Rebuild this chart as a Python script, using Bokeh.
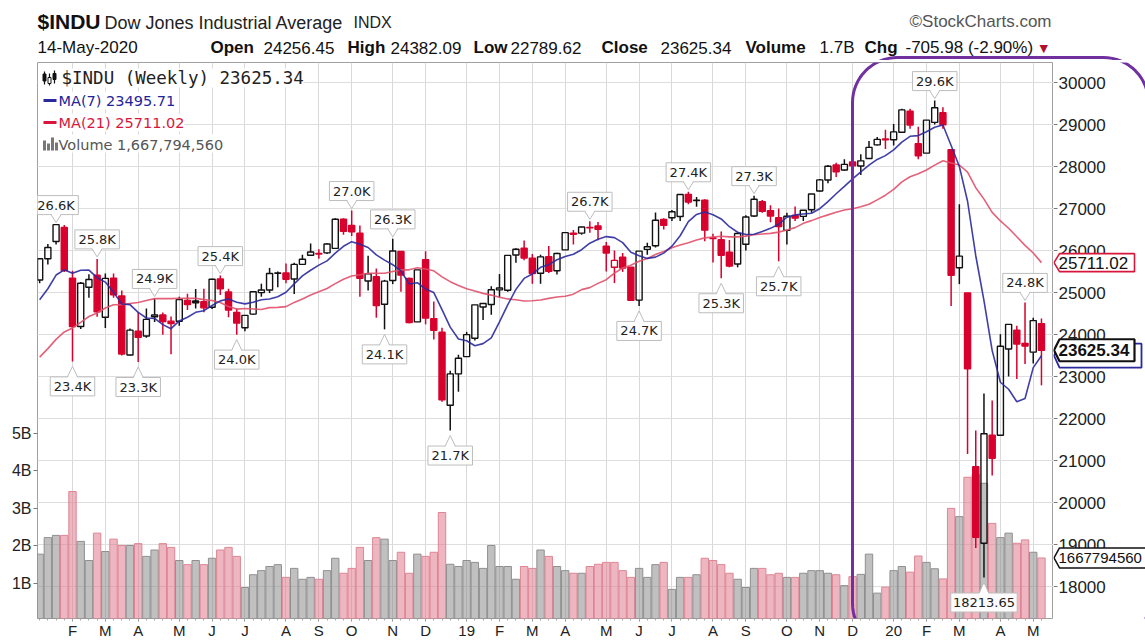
import numpy as np
import pandas as pd
from bokeh.plotting import figure
from bokeh.layouts import column, row
from bokeh.models import Range1d, LinearAxis, FixedTicker, Grid, ColumnDataSource
from bokeh.core.properties import value
from bokeh.embed import file_html
from bokeh.resources import INLINE

# ------------------------------------------------------------------ data
first_week = "2018-01-08"
opens = [25296, 25804, 26214, 26550, 25338, 24190, 25124, 25412, 24412, 25339,
         24915, 23513, 24076, 23963, 24421, 24465, 24318, 24317, 24808, 24800,
         24782, 24650, 25322, 25014, 24524, 24161, 24486, 24998, 25059, 25459,
         25465, 25321, 25670, 25887, 25931, 25944, 26050, 26743, 26598, 26410,
         25275, 25377, 24722, 25287, 25976, 25337, 24300, 25779, 24378, 24052,
         22317, 23062, 23474, 23910, 24654, 24715, 25063, 25052, 25892, 26052,
         25819, 25459, 25852, 25519, 26015, 26388, 26413, 26550, 26582, 26100,
         25600, 25841, 25600, 24819, 26027, 26112, 26740, 26780, 26810, 27337,
         27200, 27196, 26301, 26255, 25957, 25679, 26150, 26822, 27160, 26950,
         26780, 26478, 26836, 26812, 26970, 27417, 27678, 28034, 27917, 28109,
         28011, 28191, 28515, 28655, 28636, 28817, 29316, 28540, 28319, 29050,
         29279, 28402, 25591, 24990, 20850, 19029, 21600, 21600, 23656, 24100,
         23789, 23580, 24256.45]
highs = [25804, 26154, 26617, 26608, 25520, 25249, 25432, 25800, 25450, 25450,
         25049, 24140, 24530, 24622, 24858, 24521, 24429, 24900, 24968, 25086,
         25087, 25326, 25402, 25088, 24622, 24456, 25019, 25210, 25586, 25500,
         25692, 25710, 25897, 26167, 26030, 26173, 26769, 26769, 26951, 26597,
         25877, 25570, 25301, 26277, 25977, 25355, 25538, 25980, 24788, 24159,
         23138, 23518, 24064, 24706, 24752, 25149, 25439, 25883, 26052, 26241,
         25917, 25899, 26109, 25949, 26425, 26486, 26565, 26696, 26680, 26200,
         26000, 25940, 25600, 25984, 26182, 26907, 26770, 26966, 27332, 27398,
         27273, 27221, 26400, 26450, 26250, 26427, 26840, 27306, 27200, 27079,
         26998, 26900, 27050, 26960, 27347, 27700, 28034, 28090, 28175, 28120,
         28290, 28608, 28701, 28873, 29009, 29374, 29373, 28944, 29103, 29569,
         29410, 28402, 27102, 24990, 21714, 22595, 22430, 24008, 24242, 24208,
         24764, 24400, 24382.09]
lows = [25222, 25667, 26144, 25490, 23360, 24130, 24876, 24420, 24156, 24874,
        23500, 23500, 23345, 23922, 24300, 23997, 23531, 24209, 24585, 24622,
        24528, 24609, 24943, 24408, 23997, 24075, 24470, 24900, 24987, 25126,
        25222, 24965, 25667, 25887, 25801, 25915, 26050, 26375, 26345, 24899,
        25049, 24400, 24122, 25200, 25017, 24268, 24295, 24242, 23881, 22397,
        21713, 22638, 23474, 23860, 24345, 24470, 24883, 25017, 25710, 25765,
        25208, 25208, 25462, 25427, 26015, 26143, 26375, 26422, 26247, 25500,
        25224, 25490, 24815, 24680, 25900, 26070, 26500, 26700, 26700, 27100,
        27040, 26220, 25717, 25339, 25600, 25600, 26000, 26800, 26900, 26670,
        25743, 26140, 26700, 26700, 26900, 27400, 27600, 27750, 27900, 27325,
        27800, 28190, 28500, 28418, 28500, 28800, 28900, 28170, 28319, 29000,
        28900, 24681, 25200, 21154, 18917, 18213.65, 20640, 21600, 23000, 22941,
        23300, 23310, 22789.62]
closes = [25803, 26072, 26616, 25521, 24191, 25219, 25310, 24538, 25336, 24946,
          23533, 24103, 23933, 24360, 24463, 24311, 24263, 24831, 24715, 24753,
          24635, 25317, 25090, 24581, 24271, 24456, 25019, 25058, 25451, 25463,
          25313, 25669, 25790, 25965, 25917, 26154, 26744, 26458, 26447, 25340,
          25444, 24688, 25270, 25989, 25413, 24286, 25538, 24389, 24100, 22445,
          23062, 23433, 23996, 24706, 24737, 25064, 25106, 25883, 26031, 25820,
          25450, 25849, 25502, 25929, 26425, 26412, 26559, 26543, 26505, 25942,
          25764, 25585, 24815, 25984, 26090, 26720, 26600, 26922, 27332, 27154,
          27192, 26485, 26287, 25886, 25629, 26403, 26797, 27219, 26935, 26820,
          26573, 26817, 26770, 26958, 27347, 27681, 28005, 27876, 28051, 28015,
          28135, 28455, 28645, 28635, 28824, 29348, 28989, 28256, 29103, 29398,
          28992, 25409, 25865, 23186, 19174, 21637, 21053, 23719, 24242, 23775,
          23724, 24331, 23625.34]
volumes_b = [1.77, 2.21, 2.27, 2.27, 3.44, 2.11, 1.60, 2.33, 1.84, 2.17,
             2.00, 2.00, 2.05, 1.71, 1.88, 2.05, 1.95, 1.60, 1.49, 1.60,
             1.49, 1.66, 1.88, 1.95, 1.71, 0.88, 1.22, 1.33, 1.44, 1.49,
             1.15, 1.39, 1.10, 1.15, 1.10, 1.33, 1.66, 1.26, 1.39, 1.95,
             1.60, 2.21, 2.17, 1.60, 1.82, 1.26, 1.77, 1.71, 1.82, 2.88,
             1.50, 1.44, 1.60, 1.55, 1.39, 2.00, 1.44, 1.44, 1.10, 1.44,
             1.39, 1.88, 1.71, 1.44, 1.33, 1.26, 1.26, 1.44, 1.50, 1.55,
             1.55, 1.33, 1.15, 1.39, 1.15, 1.49, 1.55, 0.83, 1.15, 1.15,
             1.22, 1.66, 1.60, 1.49, 1.26, 1.10, 0.88, 1.39, 1.39, 1.22,
             1.26, 1.15, 1.15, 1.26, 1.33, 1.33, 1.26, 1.22, 0.93, 1.17,
             1.23, 1.77, 0.73, 0.89, 1.33, 1.44, 1.29, 1.72, 1.55, 1.38,
             1.11, 2.99, 2.77, 3.82, 3.90, 3.66, 2.59, 2.21, 2.33, 2.06,
             2.15, 1.82, 1.667794560]
# weekly closes before the first bar (seed the moving averages)
prior_closes = [21814, 21988, 21798, 22268, 22350, 22405, 22773, 22871, 23329, 23434,
                23539, 23422, 23358, 23558, 24231, 24329, 24651, 24754, 24719, 25295]

# values printed on the chart
ma7_label = "23495.71"
ma21_label = "25711.02"
close_label = "23625.34"
volume_label = "1,667,794,560"
volume_tag_label = "1667794560"

ann_index = [2, 7, 14, 22, 38, 43, 67, 79, 87, 109, 120,
             4, 12, 24, 42, 50, 73, 83, 90, 115]
ann_kind = ["high"] * 11 + ["low"] * 9
ann_text = ["26.6K", "25.8K", "24.9K", "25.4K", "27.0K", "26.3K", "26.7K", "27.4K",
            "27.3K", "29.6K", "24.8K",
            "23.4K", "23.3K", "24.0K", "24.1K", "21.7K", "24.7K", "25.3K", "25.7K",
            "18213.65"]

price_ticks = list(range(18000, 30001, 1000))
volume_ticks = [1, 2, 3, 4, 5]

# ------------------------------------------------------------------ geometry (page px)
PAGE_R = 1145
HDR_H = 60                  # header strip: page y 0..60
MAIN_TOP, MAIN_H = 60, 582  # chart strip: page y 60..642
FR_L, FR_R, FR_T, FR_B = 37, 1053, 62, 618
X0PX, WEEK_PX = 39.15, 8.2115
Y30K, PX_PER_K = 82.0, 42.0
VOL0PX, PX_PER_B = 620.0, 37.5


def dx(px):
    return (px - X0PX) / WEEK_PX


def dy(py):
    return 30000 - (py - Y30K) / PX_PER_K * 1000


def dv(py):
    return (VOL0PX - py) / PX_PER_B


PT = 1000 / PX_PER_K       # price units per pixel
WK = 1 / WEEK_PX           # x units per pixel
RED = "#d8002c"
PURPLE = "#7030a0"


def rounded_rect(l, t, r, b, rad, steps=16):
    pts = []
    for cx, cy, a0 in [(l + rad, t + rad, 180), (r - rad, t + rad, 270),
                       (r - rad, b - rad, 0), (l + rad, b - rad, 90)]:
        for k in range(steps + 1):
            a = np.radians(a0 + 90.0 * k / steps)
            pts.append((cx + rad * np.cos(a), cy + rad * np.sin(a)))
    pts.append(pts[0])
    return np.array([q[0] for q in pts]), np.array([q[1] for q in pts])


hx, hy = rounded_rect(852, 57, 1148, 648, 45)

n = len(closes)
dates = pd.date_range(first_week, periods=n, freq="7D")
o = np.array(opens, float)
h = np.array(highs, float)
l = np.array(lows, float)
c = np.array(closes, float)
prev = np.r_[prior_closes[-1], c[:-1]]
down = c < prev
hollow = c > o

src = ColumnDataSource(dict(
    i=np.arange(n), h=h, l=l,
    top=np.maximum(o, c), bot=np.minimum(o, c),
    col=np.where(down, RED, "#111111"),
    fa=np.where(hollow, 0.0, 1.0),
    vol=np.array(volumes_b),
    vfill=np.where(down, "#e07a8c", "#8c8c8c"),
    vline=np.where(down, "#de8594", "#8f8f8f"),
))

allc = pd.Series(prior_closes + closes, dtype=float)
ma7 = allc.rolling(7).mean().iloc[-n:].values
ma21 = allc.rolling(21).mean().iloc[-n:].values

# ------------------------------------------------------------------ header strip
hdr = figure(width=PAGE_R, height=HDR_H, output_backend="svg", toolbar_location=None,
             x_range=Range1d(0, PAGE_R), y_range=Range1d(HDR_H, 0),
             x_axis_location=None, y_axis_location=None, min_border=0,
             outline_line_color=None, background_fill_color="white", border_fill_color="white")
hdr.grid.visible = False


def htext(x, y, s, size, bold=False, color="#111111", align="left", font="Liberation Sans"):
    hdr.text(x=[x], y=[y], text=[s], text_align=align, text_baseline="middle",
             text_font=value(font), text_font_size=size,
             text_font_style="bold" if bold else "normal", text_color=color)


htext(37, 21, "$INDU", "21px", bold=True)
htext(104, 22, "Dow Jones Industrial Average", "18px", color="#222222")
htext(353, 22, "INDX", "16px", color="#222222")
htext(1051, 21, "\u00a9StockCharts.com", "17px", color="#555555", align="right")
htext(37, 47, "14-May-2020", "17px")
htext(210, 47, "Open", "17px", bold=True)
htext(263, 47, "24256.45", "17px")
htext(347, 47, "High", "17px", bold=True)
htext(390, 47, "24382.09", "17px")
htext(473, 47, "Low", "17px", bold=True)
htext(510, 47, "22789.62", "17px")
htext(601, 47, "Close", "17px", bold=True)
htext(660, 47, close_label, "17px")
htext(745, 47, "Volume", "17px", bold=True)
htext(819, 47, "1.7B", "17px")
htext(864, 47, "Chg", "17px", bold=True)
htext(905, 47, "-705.98 (-2.90%)", "17px")
htext(1039, 48, "\u25bc", "11px", color="#b0102e", font="DejaVu Sans")
hdr.line(hx, hy, line_color=PURPLE, line_width=3)

# ------------------------------------------------------------------ main chart
BORDER_T = FR_T - MAIN_TOP
BORDER_B = MAIN_TOP + MAIN_H - FR_B
p = figure(width=FR_R, height=MAIN_H, output_backend="svg", toolbar_location=None,
           x_range=Range1d(dx(FR_L), dx(FR_R)), y_range=Range1d(dy(FR_B), dy(FR_T)),
           y_axis_location=None, x_axis_location="below",
           min_border_left=FR_L, min_border_right=0,
           min_border_top=BORDER_T, min_border_bottom=BORDER_B,
           outline_line_color="#a0a0a0", background_fill_color="white",
           border_fill_color="white")
p.extra_y_ranges = {"vol": Range1d(dv(FR_B), dv(FR_T))}

month_idx = [i for i in range(1, n) if dates[i].month != dates[i - 1].month]
month_lab = {i: ("%02d" % (dates[i].year % 100)) if dates[i].month == 1
             else dates[i].strftime("%b")[0] for i in month_idx}

xa = p.xaxis[0]
xa.ticker = FixedTicker(ticks=month_idx, minor_ticks=list(range(n)))
xa.major_label_overrides = month_lab
xa.axis_line_color = None
xa.major_tick_out, xa.major_tick_in = 3, 0
xa.minor_tick_out, xa.minor_tick_in = 2, 0
xa.major_tick_line_color = "#888888"
xa.minor_tick_line_color = "#aaaaaa"
xa.major_label_standoff = 0
xa.major_label_text_font = "Liberation Sans"
xa.major_label_text_font_size = "15px"
xa.major_label_text_color = "#222222"
p.xgrid.grid_line_color = "#d9d9d9"

p.add_layout(Grid(dimension=1, ticker=FixedTicker(ticks=price_ticks),
                  grid_line_color="#dedede"))

va = LinearAxis(y_range_name="vol", ticker=FixedTicker(ticks=volume_ticks),
                major_label_overrides={t: "%dB" % t for t in volume_ticks})
va.axis_line_color = None
va.major_tick_out, va.major_tick_in = 4, 0
va.major_tick_line_color = "#777777"
va.minor_tick_line_color = None
va.major_label_standoff = 2
va.major_label_text_font = "Liberation Sans"
va.major_label_text_font_size = "16px"
va.major_label_text_color = "#222222"
p.add_layout(va, "left")

# volume
p.vbar(x="i", top="vol", bottom=0, width=0.9, y_range_name="vol", source=src,
       fill_color="vfill", fill_alpha=0.55, line_color="vline", line_width=1)

# candles
p.segment(x0="i", y0="h", x1="i", y1="top", line_color="col", line_width=1.5, source=src)
p.segment(x0="i", y0="bot", x1="i", y1="l", line_color="col", line_width=1.5, source=src)
p.vbar(x="i", top="top", bottom="bot", width=0.74, fill_color="col", fill_alpha="fa",
       line_color="col", line_width=1.4, source=src)

# moving averages
p.line(np.arange(n), ma21, line_color="#e0506a", line_width=1.6, line_alpha=0.9)
p.line(np.arange(n), ma7, line_color="#2a2a9e", line_width=1.6, line_alpha=0.9)

# legend block
p.quad(left=[dx(38)] * 4, right=[dx(303), dx(174), dx(184), dx(215)],
       top=[dy(68), dy(91), dy(113), dy(134)], bottom=[dy(87), dy(109), dy(131), dy(152)],
       fill_color="white", line_color=None)
p.segment(x0=[dx(43)], y0=[dy(100)], x1=[dx(56)], y1=[dy(100)], line_color="#2a2a9e", line_width=3)
p.segment(x0=[dx(43)], y0=[dy(122)], x1=[dx(56)], y1=[dy(122)], line_color="#d8163c", line_width=3)
p.segment(x0=[dx(44), dx(49), dx(54)], y0=[dy(71), dy(73), dy(70)],
          x1=[dx(44), dx(49), dx(54)], y1=[dy(84), dy(85), dy(83)], line_color="#111111", line_width=1.2)
p.rect(x=[dx(44), dx(49), dx(54)], y=[dy(77), dy(80), dy(76)], width=3 * WK,
       height=[7 * PT, 6 * PT, 6 * PT], fill_color=["#111111", "white", "#111111"], line_color="#111111")
p.vbar(x=[dx(44), dx(48), dx(52), dx(56)], top=[dy(140), dy(143), dy(137), dy(142)],
       bottom=dy(150), width=3 * WK, fill_color="#777777", line_color=None)
p.text(x=[dx(61)], y=[dy(77)], text=["$INDU (Weekly) " + close_label], text_baseline="middle",
       text_font=value("DejaVu Sans Mono"), text_font_size="17.5px", text_color="#222222")
p.text(x=[dx(58)] * 3, y=[dy(100), dy(122), dy(144)],
       text=["MA(7) " + ma7_label, "MA(21) " + ma21_label, "Volume " + volume_label],
       text_color=["#23239a", "#d8163c", "#555555"], text_baseline="middle",
       text_font=value("DejaVu Sans"), text_font_size="14.5px")

# high / low callouts
bx, by, bw, tt = [], [], [], []
tri_x, tri_y, edge_x, edge_y = [], [], [], []
for idx, kind, txt in zip(ann_index, ann_kind, ann_text):
    if kind == "high":
        yc = h[idx] + 19.5 * PT
        edge = yc - 9.5 * PT
        inner = edge + 1.5 * PT
        tip = h[idx] + 2 * PT
    else:
        yc = l[idx] - 25 * PT
        edge = yc + 9.5 * PT
        inner = edge - 1.5 * PT
        tip = l[idx] - 5 * PT
    bx.append(idx)
    by.append(yc)
    bw.append((7.3 * len(txt) + 8) * WK)
    tri_x.append([idx - 5 * WK, idx, idx + 5 * WK])
    tri_y.append([inner, tip, inner])
    edge_x.append([idx - 5 * WK, idx, idx + 5 * WK])
    edge_y.append([edge, tip, edge])
    tt.append(txt)
p.rect(x=bx, y=by, width=bw, height=19 * PT, fill_color="white", fill_alpha=0.95,
       line_color="#bdbdbd", line_width=1)
p.patches(tri_x, tri_y, fill_color="white", line_color=None)
p.multi_line(edge_x, edge_y, line_color="#bdbdbd", line_width=1)
p.text(x=bx, y=by, text=tt, text_align="center", text_baseline="middle",
       text_font=value("DejaVu Sans"), text_font_size="13px", text_color="#222222")

# highlight outline (part inside the chart)
p.line(dx(hx), dy(hy), line_color=PURPLE, line_width=3)

# ------------------------------------------------------------------ right price scale strip
# same vertical frame as the chart, so it shares the chart's price mapping
RT_W = PAGE_R - FR_R
rt = figure(width=RT_W, height=MAIN_H, output_backend="svg", toolbar_location=None,
            x_range=Range1d(FR_R, PAGE_R), y_range=Range1d(dy(FR_B), dy(FR_T)),
            x_axis_location=None, y_axis_location=None,
            min_border_left=0, min_border_right=0,
            min_border_top=BORDER_T, min_border_bottom=BORDER_B,
            outline_line_color=None, background_fill_color="white", border_fill_color="white")
rt.extra_y_ranges = {"vol": Range1d(dv(FR_B), dv(FR_T))}
rt.grid.visible = False
rt.segment(x0=FR_R, y0=price_ticks, x1=FR_R + 4, y1=price_ticks, line_color="#777777", line_width=1)
rt.text(x=[FR_R + 5] * len(price_ticks), y=price_ticks, text=[str(t) for t in price_ticks],
        text_baseline="middle", text_font=value("Liberation Sans"), text_font_size="17px",
        text_color="#222222")


def tag(yv, text, edge, lw, half_px, right, bold=False, size="17px", rng="default"):
    unit = PT if rng == "default" else 1 / PX_PER_B
    xs = [FR_R + 0.5, FR_R + 6, right, right, FR_R + 6]
    ys = [yv, yv + half_px * unit, yv + half_px * unit, yv - half_px * unit, yv - half_px * unit]
    rt.patch(xs, ys, fill_color="white", line_color=edge, line_width=lw, y_range_name=rng)
    if text:
        rt.text(x=[FR_R + 5], y=[yv], text=[text], text_baseline="middle", y_range_name=rng,
                text_font=value("Liberation Sans"), text_font_size=size,
                text_font_style="bold" if bold else "normal", text_color="#111111")


tag(ma21[-1], ma21_label, "#d8163c", 1.6, 9, 1134)
tag(ma7[-1], "", "#2a2a9e", 1.8, 12, 1141)
tag(c[-1], close_label, "#111111", 2.2, 11, 1134, bold=True)
tag(volumes_b[-1], volume_tag_label, "#111111", 1.5, 10, 1150, size="15px", rng="vol")
rt.line(hx, dy(hy), line_color=PURPLE, line_width=3)

layout = column(hdr, row(p, rt))
open("out.html", "w").write(file_html(layout, INLINE, "INDU weekly"))
